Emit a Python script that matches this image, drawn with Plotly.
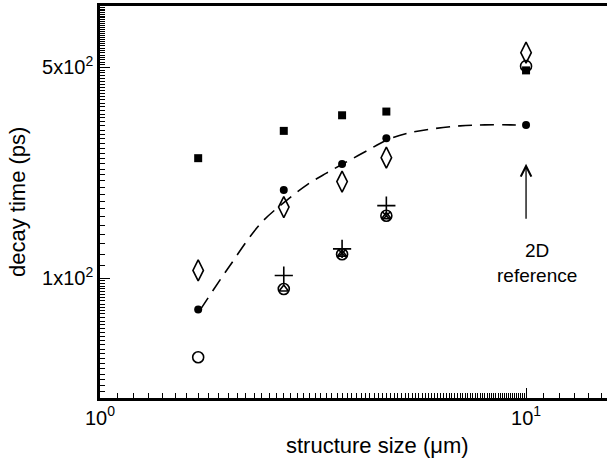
import math
import plotly.graph_objects as go

# structure sizes (um)
size_x = [1.7, 2.7, 3.7, 4.7, 10]

sq_y = [250, 308, 347, 357, 489]          # filled squares
dot_y = [78.6, 196, 239, 291, 322]        # filled circles
dia_y = [106, 172, 209, 251, 560]         # open diamonds
circ_y = [54.6, 92, 120, 161, 505]        # open circles
plus_x = [2.7, 3.7, 4.7]
plus_y = [102, 125, 174]                  # plus
tri_x = [2.7, 3.7, 4.7]
tri_y = [92, 120, 160]                    # open triangles
cross_x = [3.7, 4.7]
cross_y = [121, 161]                      # crosses

# dashed guide curve
fit_x = [1.72, 2.0, 2.38, 2.7, 3.06, 3.4, 3.73, 4.2, 4.73, 5.3, 6.06, 7.0, 8.0, 9.2, 10.0]
fit_y = [78.6, 108, 151.5, 178, 204, 223, 240, 263, 288, 303, 313, 320, 322.5, 322.5, 321.7]

x_tickvals = [1, 10]
x_ticktext = ["10<sup>0</sup>", "10<sup>1</sup>"]
y_tickvals = [50, 100, 500]
y_ticktext = ["", "1x10<sup>2</sup>", "5x10<sup>2</sup>"]

x_minor = [round(1 + 0.1 * i, 1) for i in range(1, 90)] + [11, 12, 13, 14, 15, 16]
y_minor = [40 + 2 * i for i in range(0, 31)] + [100 + 10 * i for i in range(1, 71)]

arrow_tip_y = 239.5
arrow_label_y = 112.5

FONT = "Liberation Sans, Arial, Helvetica, sans-serif"

fig = go.Figure()
fig.add_trace(go.Scatter(x=fit_x, y=fit_y, mode="lines", line_shape="spline",
                         line=dict(color="black", width=1.6, dash="14px,8px", smoothing=1.0),
                         showlegend=False, hoverinfo="skip"))
fig.add_trace(go.Scatter(x=size_x, y=sq_y, mode="markers",
                         marker=dict(symbol="square", size=8, color="black")))
fig.add_trace(go.Scatter(x=size_x, y=circ_y, mode="markers",
                         marker=dict(symbol="circle-open", size=11, color="black",
                                     line=dict(width=1.6))))
fig.add_trace(go.Scatter(x=tri_x, y=tri_y, mode="markers",
                         marker=dict(symbol="triangle-up-open", size=8, color="black",
                                     line=dict(width=1.6))))
fig.add_trace(go.Scatter(x=cross_x, y=cross_y, mode="markers",
                         marker=dict(symbol="x-thin-open", size=8, color="black",
                                     line=dict(width=1.6))))
fig.add_trace(go.Scatter(x=plus_x, y=plus_y, mode="markers",
                         marker=dict(symbol="cross-thin-open", size=13, color="black",
                                     line=dict(width=1.6))))
fig.add_trace(go.Scatter(x=size_x, y=dia_y, mode="markers",
                         marker=dict(symbol="diamond-tall-open", size=15, color="black",
                                     line=dict(width=1.6))))
fig.add_trace(go.Scatter(x=size_x, y=dot_y, mode="markers",
                         marker=dict(symbol="circle", size=8, color="black")))

fig.update_layout(
    width=607, height=464,
    margin=dict(l=100, r=0, t=6, b=66),
    paper_bgcolor="white", plot_bgcolor="white",
    showlegend=False,
    font=dict(family=FONT, size=19, color="black"),
    xaxis=dict(type="log", range=[0, 1.19], showgrid=False, zeroline=False,
               showline=True, linecolor="black", linewidth=2.5, mirror=True,
               ticks="inside", ticklen=10, tickwidth=1.3, tickcolor="black",
               tickmode="array", tickvals=x_tickvals, ticktext=x_ticktext,
               tickfont=dict(size=20),
               minor=dict(ticks="inside", ticklen=5, tickwidth=1, tickcolor="black",
                          tickmode="array", tickvals=x_minor)),
    yaxis=dict(type="log", range=[1.602, 2.903], showgrid=False, zeroline=False,
               showline=True, linecolor="black", linewidth=2.5, mirror=False,
               ticks="inside", ticklen=10, tickwidth=1.3, tickcolor="black",
               tickmode="array", tickvals=y_tickvals, ticktext=y_ticktext,
               tickfont=dict(size=20),
               minor=dict(ticks="inside", ticklen=5, tickwidth=1, tickcolor="black",
                          tickmode="array", tickvals=y_minor)),
)

fig.add_annotation(x=1, y=math.log10(arrow_tip_y), xref="x", yref="y", text=" ",
                   font=dict(size=1),
                   showarrow=True, arrowhead=5, arrowsize=1.6, arrowwidth=1.3,
                   arrowcolor="black", ax=0, ay=57)
fig.add_annotation(x=1, y=math.log10(arrow_label_y), xref="x", yref="y",
                   text="2D<br>reference", showarrow=False, font=dict(size=19),
                   xshift=11, align="center")
fig.add_annotation(xref="paper", yref="paper", x=(377 - 100) / 507, y=0.0, yshift=-47,
                   text="structure size (\u03bcm)", showarrow=False,
                   font=dict(size=22), xanchor="center", yanchor="middle")
fig.add_annotation(xref="paper", yref="paper", x=-(100 - 17) / 507, y=0.5,
                   text="decay time (ps)", textangle=-90, showarrow=False,
                   font=dict(size=22), xanchor="center", yanchor="middle")

fig.write_html("out.html", config={"displayModeBar": False},
               post_script="document.body.style.margin='0px';document.body.style.padding='0px';")
